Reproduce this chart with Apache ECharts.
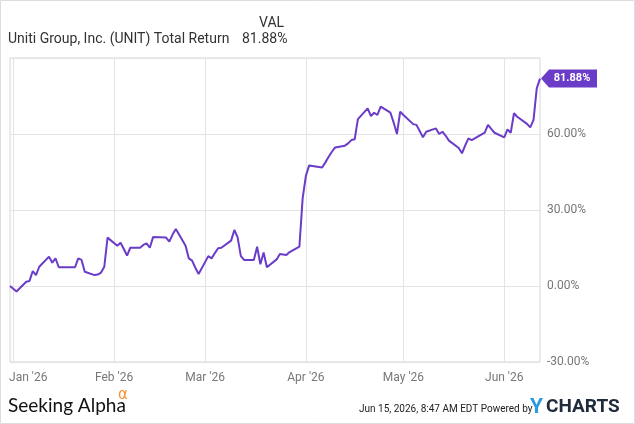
<!DOCTYPE html>
<html>
<head>
<meta charset="utf-8">
<script src="https://cdn.jsdelivr.net/npm/echarts@6/dist/echarts.min.js"></script>
<style>
  html, body { margin: 0; padding: 0; background: #fff; }
  #main { width: 635px; height: 424px; }
</style>
</head>
<body>
<div id="main"></div>
<script>
// trading days and total return (%)
var dates = [
  '2025-12-31', '2026-01-02', '2026-01-05', '2026-01-06', '2026-01-07', '2026-01-08', '2026-01-09',
  '2026-01-12', '2026-01-13', '2026-01-14', '2026-01-15', '2026-01-16',
  '2026-01-20', '2026-01-21', '2026-01-22', '2026-01-23',
  '2026-01-26', '2026-01-27', '2026-01-28', '2026-01-29', '2026-01-30',
  '2026-02-02', '2026-02-03', '2026-02-04', '2026-02-05', '2026-02-06',
  '2026-02-09', '2026-02-10', '2026-02-11', '2026-02-12', '2026-02-13',
  '2026-02-17', '2026-02-18', '2026-02-19', '2026-02-20',
  '2026-02-23', '2026-02-24', '2026-02-25', '2026-02-26', '2026-02-27',
  '2026-03-02', '2026-03-03', '2026-03-04', '2026-03-05', '2026-03-06',
  '2026-03-09', '2026-03-10', '2026-03-11', '2026-03-12', '2026-03-13',
  '2026-03-16', '2026-03-17', '2026-03-18', '2026-03-19', '2026-03-20',
  '2026-03-23', '2026-03-24', '2026-03-25', '2026-03-26', '2026-03-27',
  '2026-03-30', '2026-03-31', '2026-04-01', '2026-04-02',
  '2026-04-06', '2026-04-07', '2026-04-08', '2026-04-09', '2026-04-10',
  '2026-04-13', '2026-04-14', '2026-04-15', '2026-04-16', '2026-04-17',
  '2026-04-20', '2026-04-21', '2026-04-22', '2026-04-23', '2026-04-24',
  '2026-04-27', '2026-04-28', '2026-04-29', '2026-04-30', '2026-05-01',
  '2026-05-04', '2026-05-05', '2026-05-06', '2026-05-07', '2026-05-08',
  '2026-05-11', '2026-05-12', '2026-05-13', '2026-05-14', '2026-05-15',
  '2026-05-18', '2026-05-19', '2026-05-20', '2026-05-21', '2026-05-22',
  '2026-05-26', '2026-05-27', '2026-05-28', '2026-05-29',
  '2026-06-01', '2026-06-02', '2026-06-03', '2026-06-04', '2026-06-05',
  '2026-06-08', '2026-06-09', '2026-06-10', '2026-06-11', '2026-06-12'
];
var totalReturn = [
  0, -2.2, 1.7, 2.0, 5.9, 4.3, 7.6,
  11.6, 9.2, 10.9, 7.4, 7.4,
  7.4, 10.9, 10.3, 5.6,
  4.3, 4.5, 5.3, 7.6, 19.1,
  15.9, 17.1, 14.6, 12.0, 15.1,
  15.1, 16.2, 16.8, 15.1, 19.3,
  19.1, 17.5, 20.3, 22.5,
  15.9, 10.9, 10.0, 7.2, 4.7,
  11.8, 10.9, 13.0, 14.9, 15.1,
  17.9, 22.1, 19.2, 11.8, 10.3,
  10.3, 15.5, 8.6, 13.2, 7.4,
  10.5, 12.6, 12.4, 12.2, 13.4,
  15.5, 34.6, 43.5, 47.6,
  46.8, 48.8, 51.0, 53.0, 54.7,
  55.4, 56.3, 57.6, 57.9, 65.9,
  70.1, 67.1, 68.4, 67.5, 70.8,
  68.4, 64.5, 60.0, 68.8, 67.5,
  63.9, 63.6, 61.2, 58.7, 60.9,
  62.2, 60.0, 60.9, 59.3, 57.4,
  54.5, 52.4, 55.5, 58.3, 57.6,
  60.5, 63.6, 62.0, 60.5,
  58.7, 61.8, 60.5, 68.2, 66.8,
  64.0, 62.6, 65.5, 78.0, 81.88
];
var monthTicks = ['2026-01-01', '2026-02-01', '2026-03-01', '2026-04-01', '2026-05-01', '2026-06-01'];
var monthLabels = ["Jan '26", "Feb '26", "Mar '26", "Apr '26", "May '26", "Jun '26"];
var yTicks = [-30, 0, 30, 60, 90];

function toTime(s) {
  var p = s.split('-');
  return new Date(+p[0], +p[1] - 1, +p[2]).getTime();
}

var tickTimes = monthTicks.map(toTime);
var seriesData = dates.map(function (d, i) { return [toTime(d), totalReturn[i]]; });
var lastIdx = dates.length - 1;
var lastText = totalReturn[lastIdx].toFixed(2) + '%';

var purple = '#6a3cc8';

var chartDom = document.getElementById('main');
var myChart = echarts.init(chartDom, null, { renderer: 'canvas' });

var option = {
  animation: false,
  backgroundColor: '#fff',
  textStyle: { fontFamily: 'Roboto' },
  grid: {
    left: 10,
    right: 95,
    top: 58,
    bottom: 62,
    show: true,
    borderColor: '#d6d6d6',
    borderWidth: 1
  },
  xAxis: {
    type: 'value',
    min: toTime(dates[0]),
    max: toTime(dates[lastIdx]),
    axisLine: { show: false },
    axisTick: { show: false, customValues: tickTimes },
    splitLine: { show: true, lineStyle: { color: '#e3e3e3', width: 1 } },
    axisLabel: {
      customValues: tickTimes,
      color: '#777',
      fontSize: 12,
      margin: 10,
      formatter: function (v) {
        var i = tickTimes.indexOf(v);
        if (i === 0) return '{first|' + monthLabels[0] + '}';
        return i >= 0 ? monthLabels[i] : '';
      },
      rich: {
        first: { color: '#777', fontSize: 12, padding: [0, 0, 0, 30] }
      }
    }
  },
  yAxis: {
    type: 'value',
    position: 'right',
    min: yTicks[0],
    max: yTicks[yTicks.length - 1],
    interval: 30,
    axisLine: { show: false },
    axisTick: { show: false },
    splitLine: { show: true, lineStyle: { color: '#e3e3e3', width: 1 } },
    axisLabel: {
      showMaxLabel: false,
      color: '#777',
      fontSize: 12,
      margin: 7,
      verticalAlign: 'middle',
      padding: [0, 0, 8, 0],
      formatter: function (v) { return v.toFixed(2) + '%'; }
    }
  },
  graphic: [
    {
      type: 'rect',
      shape: { x: 0.5, y: 0.5, width: 634, height: 423 },
      style: { fill: 'none', stroke: '#dddddd', lineWidth: 1 },
      silent: true
    },
    {
      type: 'text', left: 259, top: 16,
      style: { text: 'VAL', fill: '#333', font: '14px Roboto' }
    },
    {
      type: 'text', left: 8, top: 32,
      style: { text: 'Uniti Group, Inc. (UNIT) Total Return', fill: '#333', font: '14px Roboto' }
    },
    {
      type: 'text', left: 242, top: 32,
      style: { text: lastText, fill: '#333', font: '14px Roboto' }
    },
    {
      type: 'text', left: 8, top: 396,
      style: { text: 'Seeking Alpha', fill: '#111', font: '19px Lato' }
    },
    {
      type: 'text', left: 118, top: 388,
      style: { text: 'α', fill: '#f5922f', font: '15px "DejaVu Sans"' }
    },
    {
      type: 'text', left: 359, top: 404,
      style: { text: 'Jun 15, 2026, 8:47 AM EDT Powered by', fill: '#222', font: '10px Roboto' }
    },
    {
      type: 'text', left: 530, top: 397,
      style: { text: 'Y', fill: '#2b9be0', font: 'bold 21px Roboto' }
    },
    {
      type: 'text', left: 546, top: 398,
      style: { text: 'CHARTS', fill: '#1d2b3c', font: 'bold 19px Roboto' }
    }
  ],
  series: [{
    name: 'Total Return',
    type: 'line',
    data: seriesData,
    showSymbol: false,
    symbol: 'none',
    clip: false,
    lineStyle: { color: purple, width: 2 },
    markPoint: {
      symbol: 'path://M0,9 L8,0 L56,0 L56,18 L8,18 Z',
      symbolSize: [56, 18],
      symbolOffset: [29, 0],
      itemStyle: { color: purple },
      label: {
        show: true,
        position: 'inside',
        offset: [3, 0],
        color: '#fff',
        fontWeight: 'bold',
        fontSize: 11,
        formatter: lastText
      },
      data: [{ coord: seriesData[lastIdx] }]
    }
  }]
};

option && myChart.setOption(option);
</script>
</body>
</html>
